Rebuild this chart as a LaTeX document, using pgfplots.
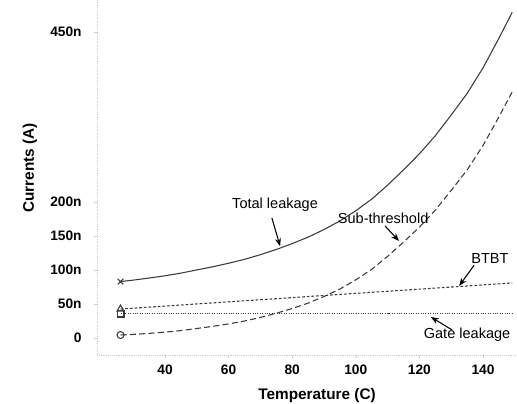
\documentclass[border=0pt]{standalone}
\usepackage{fontspec}
\setmainfont{Liberation Sans}
\usepackage{pgfplots}
\usepackage{pgfplotstable}
\pgfplotsset{compat=1.18}
\usetikzlibrary{arrows.meta}

% T, sub-threshold, BTBT, gate, total (nA)
\pgfplotstableread{
T sub btbt gate total
26 4.4 42.6 36 83.0
30 5.3 43.8 36 85.1
35 6.8 45.4 36 88.2
40 8.6 46.9 36 91.5
45 10.9 48.5 36 95.4
50 14.0 50.1 36 100.1
55 17.1 51.6 36 104.7
60 20.7 53.2 36 109.9
65 25.0 54.7 36 115.7
70 30.2 56.3 36 122.5
75 36.4 57.8 36 130.2
80 43.4 59.4 36 138.8
85 51.3 61.0 36 148.3
90 61.0 62.5 36 159.5
95 72.0 64.1 36 172.1
100 85.5 65.6 36 187.1
105 101 67.2 36 204.2
110 120 68.7 36 224.7
115 141 70.3 36 247.3
120 163 71.8 36 270.8
125 188 73.4 36 297.4
130 217 74.9 36 327.9
135 247 76.5 36 359.5
140 283 78.1 36 397.1
145 325 79.6 36 440.6
149.2 362 80.9 36 478.9
}\leak

\definecolor{curve}{HTML}{3A3A3A}

\begin{document}
\begin{tikzpicture}
\begin{axis}[
  name=ax,
  scale only axis,
  width=315pt, height=266.25pt,
  xmin=18.6, xmax=150.7,
  ymin=-25, ymax=497,
  clip=false,
  axis lines=left,
  axis line style={gray!40, densely dotted, -},
  tick style={gray!40},
  tick align=outside,
  major tick length=2pt,
  xtick={40,60,80,100,120,140},
  xticklabels={40,60,80,100,120,140},
  ytick={0,50,100,150,200,450},
  yticklabels={0,50n,100n,150n,200n,450n},
  ticklabel style={font=\fontsize{10.3}{12}\selectfont\bfseries, text=black},
  yticklabel style={xshift=-6pt},
  xticklabel style={yshift=-2pt},
  xlabel={Temperature (C)},
  ylabel={Currents (A)},
  label style={font=\fontsize{11.5}{13}\selectfont\bfseries},
  xlabel style={at={(axis description cs:0.524,-0.113)}, anchor=center},
  ylabel style={at={(axis description cs:-0.16,0.527)}, anchor=center},
  every axis plot/.append style={curve, line width=0.8pt},
]
\addplot[solid, mark=x, mark size=3pt, mark indices={1}, mark options={solid}] table[x=T, y=total] {\leak};
\addplot[dash pattern=on 4.5pt off 2.5pt, mark=o, mark size=2.6pt, mark indices={1}, mark options={solid}] table[x=T, y=sub] {\leak};
\addplot[dash pattern=on 2pt off 1.5pt, mark=triangle, mark size=3pt, mark indices={1}, mark options={solid}] table[x=T, y=btbt] {\leak};
\addplot[line width=0.6pt, dash pattern=on 0.7pt off 1.1pt, mark=square, mark size=2.6pt, mark indices={1}, mark options={solid, line width=0.8pt}] table[x=T, y=gate] {\leak};

\begin{scope}[font=\fontsize{10.9}{13}\selectfont, every node/.style={inner sep=0pt}]
\node at (axis cs:74.6,195.6) {Total leakage};
\draw[line width=0.8pt, -{Stealth[length=6pt,width=4.5pt]}] (axis cs:73.6,176.5) -- (axis cs:76.2,135);
\node at (axis cs:108.6,176.5) {Sub-threshold};
\draw[line width=0.8pt, -{Stealth[length=6pt,width=4.5pt]}] (axis cs:109.2,164.7) -- (axis cs:113.6,142.6);
\node at (axis cs:142.2,117.6) {BTBT};
\draw[line width=0.8pt, -{Stealth[length=6pt,width=4.5pt]}] (axis cs:137.2,107) -- (axis cs:132.5,76.5);
\node at (axis cs:135,4.4) {Gate leakage};
\draw[line width=0.8pt, -{Stealth[length=6pt,width=4.5pt]}] (axis cs:130.3,11.8) -- (axis cs:123.6,30.9);
\end{scope}
\end{axis}
\pgfresetboundingbox
\path ([xshift=-72.75pt,yshift=-36pt]ax.south west) rectangle (ax.north east);
\end{tikzpicture}
\end{document}
